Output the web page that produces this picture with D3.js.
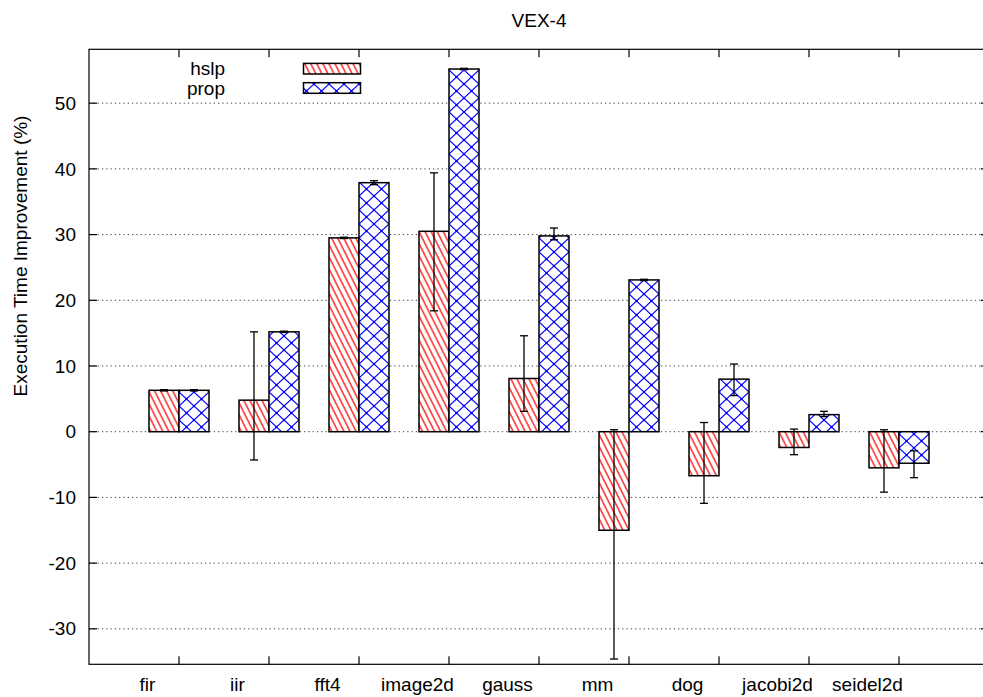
<!DOCTYPE html>
<html>
<head>
<meta charset="utf-8">
<script src="https://cdn.jsdelivr.net/npm/d3@7"></script>
<style>
  html, body { margin: 0; padding: 0; background: #fff; }
  svg { display: block; }
  text { font-family: "Liberation Sans", Arial, Helvetica, sans-serif; fill: #000; }
</style>
</head>
<body>
<svg id="chart" width="983" height="697"></svg>
<script>
// ---- data ----
const title = "VEX-4";
const yLabel = "Execution Time Improvement (%)";
const categories = ["fir", "iir", "fft4", "image2d", "gauss", "mm", "dog", "jacobi2d", "seidel2d"];
const seriesNames = ["hslp", "prop"];
const hslp   = [6.3, 4.8, 29.5, 30.5, 8.1, -15.0, -6.7, -2.4, -5.5];
const hslpLo = [6.2, -4.3, 29.4, 18.4, 3.1, -34.6, -10.9, -3.5, -9.2];
const hslpHi = [6.4, 15.2, 29.6, 39.4, 14.6, 0.3, 1.4, 0.4, 0.3];
const prop   = [6.3, 15.2, 37.9, 55.2, 29.8, 23.1, 8.0, 2.6, -4.8];
const propLo = [6.2, 15.1, 37.6, 55.1, 29.2, 23.0, 5.5, 2.3, -7.0];
const propHi = [6.4, 15.3, 38.2, 55.3, 31.0, 23.2, 10.3, 3.1, -2.9];
const yTicks = [-30, -20, -10, 0, 10, 20, 30, 40, 50];

(function () {
// ---- layout ----
const svg = d3.select("#chart");
const pL = 89, pR = 989, pT = 49.3, pB = 664.3;
const x = d3.scaleLinear().domain([0, categories.length + 1]).range([pL, pR]);
const y = d3.scaleLinear().domain([-35.4, 58.2]).range([pB, pT]);
const barW = 1 / 3;
const FS = 19;

// ---- patterns ----
const defs = svg.append("defs");
const hatch = defs.append("pattern")
  .attr("id", "hatchRed").attr("patternUnits", "userSpaceOnUse")
  .attr("width", 5.4).attr("height", 20)
  .attr("patternTransform", "rotate(-26.6)");
hatch.append("line").attr("x1", 1).attr("y1", -2).attr("x2", 1).attr("y2", 22)
  .attr("stroke", "#ff0000").attr("stroke-width", 1.25);

const cross = defs.append("pattern")
  .attr("id", "crossBlue").attr("patternUnits", "userSpaceOnUse")
  .attr("x", 14).attr("y", 0).attr("width", 15).attr("height", 14);
cross.append("path").attr("d", "M0,0 L15,14 M15,0 L0,14")
  .attr("stroke", "#0000ff").attr("stroke-width", 1.2).attr("fill", "none");
cross.append("circle").attr("cx", 7.5).attr("cy", 7).attr("r", 1.2).attr("fill", "#0000ff");
[[0,0],[15,0],[0,14],[15,14]].forEach(p =>
  cross.append("circle").attr("cx", p[0]).attr("cy", p[1]).attr("r", 1.2).attr("fill", "#0000ff"));

// ---- grid ----
svg.append("g").selectAll("line").data(yTicks).join("line")
  .attr("x1", pL).attr("x2", pR)
  .attr("y1", d => y(d)).attr("y2", d => y(d))
  .attr("stroke", "#444").attr("stroke-width", 1)
  .attr("stroke-dasharray", "1.3,3");

// ---- bars ----
const series = [
  { name: "hslp", vals: hslp, lo: hslpLo, hi: hslpHi, off: -barW, fill: "url(#hatchRed)" },
  { name: "prop", vals: prop, lo: propLo, hi: propHi, off: 0, fill: "url(#crossBlue)" }
];
series.forEach(s => {
  const g = svg.append("g");
  g.selectAll("rect.b").data(s.vals).join("rect").attr("class", "b")
    .attr("x", (d, i) => x(i + 1 + s.off))
    .attr("width", x(barW) - x(0))
    .attr("y", d => y(Math.max(0, d)))
    .attr("height", d => Math.abs(y(d) - y(0)))
    .attr("fill", "#fff");
  g.selectAll("rect.p").data(s.vals).join("rect").attr("class", "p")
    .attr("x", (d, i) => x(i + 1 + s.off))
    .attr("width", x(barW) - x(0))
    .attr("y", d => y(Math.max(0, d)))
    .attr("height", d => Math.abs(y(d) - y(0)))
    .attr("fill", s.fill).attr("stroke", "#000").attr("stroke-width", 1.5);
});
// error bars
series.forEach(s => {
  const g = svg.append("g").attr("stroke", "#000").attr("stroke-width", 1.3);
  s.vals.forEach((v, i) => {
    const cx = x(i + 1 + s.off + barW / 2);
    g.append("line").attr("x1", cx).attr("x2", cx).attr("y1", y(s.lo[i])).attr("y2", y(s.hi[i]));
    g.append("line").attr("x1", cx - 4).attr("x2", cx + 4).attr("y1", y(s.lo[i])).attr("y2", y(s.lo[i]));
    g.append("line").attr("x1", cx - 4).attr("x2", cx + 4).attr("y1", y(s.hi[i])).attr("y2", y(s.hi[i]));
  });
});

// ---- frame & ticks ----
svg.append("rect").attr("x", pL).attr("y", pT).attr("width", pR - pL).attr("height", pB - pT)
  .attr("fill", "none").attr("stroke", "#000").attr("stroke-width", 1.2);
const tk = svg.append("g").attr("stroke", "#000").attr("stroke-width", 1.2);
categories.forEach((c, i) => {
  const tx = x(i + 1);
  tk.append("line").attr("x1", tx).attr("x2", tx).attr("y1", pB).attr("y2", pB - 8);
  tk.append("line").attr("x1", tx).attr("x2", tx).attr("y1", pT).attr("y2", pT + 8);
});
yTicks.forEach(t => {
  tk.append("line").attr("x1", pL).attr("x2", pL + 8).attr("y1", y(t)).attr("y2", y(t));
  tk.append("line").attr("x1", pR).attr("x2", pR - 8).attr("y1", y(t)).attr("y2", y(t));
});

// ---- tick labels ----
svg.append("g").selectAll("text").data(yTicks).join("text")
  .attr("x", 76).attr("y", d => y(d)).attr("dy", "0.35em")
  .attr("text-anchor", "end").attr("font-size", FS).text(d => d);
svg.append("g").selectAll("text").data(categories).join("text")
  .attr("x", (d, i) => x(i + 1 - 0.35)).attr("y", 691)
  .attr("text-anchor", "middle").attr("font-size", FS).text(d => d);

// ---- title & axis label ----
svg.append("text").attr("x", (pL + pR) / 2).attr("y", 27)
  .attr("text-anchor", "middle").attr("font-size", FS).text(title);
svg.append("text").attr("transform", "translate(27,256) rotate(-90)")
  .attr("text-anchor", "middle").attr("font-size", FS).text(yLabel);

// ---- legend ----
const leg = svg.append("g");
const legFills = ["url(#hatchRed)", "url(#crossBlue)"];
seriesNames.forEach((n, i) => {
  const cy = 68.7 + i * 19.3;
  leg.append("text").attr("x", 225).attr("y", cy + 6.5).attr("text-anchor", "end")
    .attr("font-size", FS).text(n);
  leg.append("rect").attr("x", 303.5).attr("y", cy - 5.3).attr("width", 57).attr("height", 10.6)
    .attr("fill", legFills[i]).attr("stroke", "#000").attr("stroke-width", 1.5);
});
})();
</script>
</body>
</html>
